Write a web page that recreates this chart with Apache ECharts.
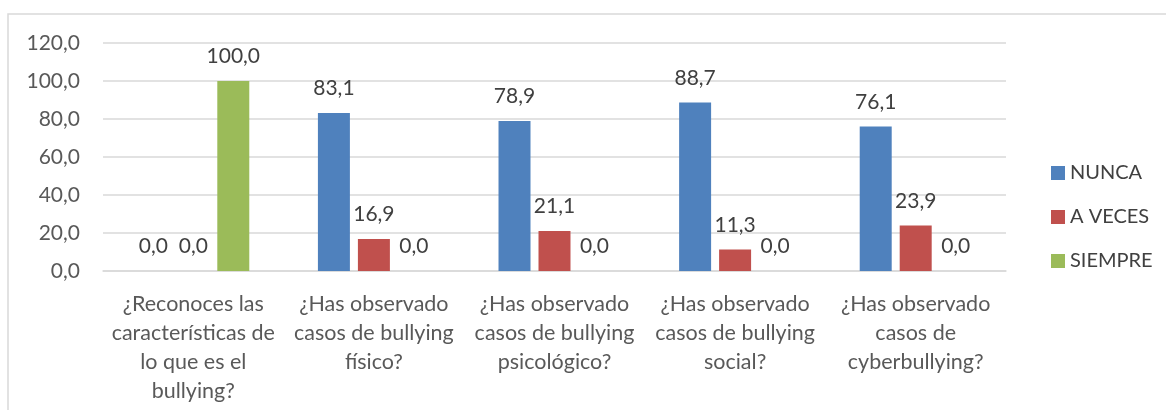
<!DOCTYPE html>
<html>
<head>
<meta charset="utf-8">
<script src="https://cdn.jsdelivr.net/npm/echarts@6/dist/echarts.min.js"></script>
<style>
  html, body { margin: 0; padding: 0; background: #fff; }
  #chart { width: 1166px; height: 410px; }
</style>
</head>
<body>
<div id="chart"></div>
<script>
var categories = [
    '¿Reconoces las\ncaracterísticas de\nlo que es el\nbullying?',
    '¿Has observado\ncasos de bullying\nfísico?',
    '¿Has observado\ncasos de bullying\npsicológico?',
    '¿Has observado\ncasos de bullying\nsocial?',
    '¿Has observado\ncasos de\ncyberbullying?'
];
var nunca = [0.0, 83.1, 78.9, 88.7, 76.1];
var aVeces = [0.0, 16.9, 21.1, 11.3, 23.9];
var siempre = [100.0, 0.0, 0.0, 0.0, 0.0];

var seriesNames = ['NUNCA', 'A VECES', 'SIEMPRE'];
var seriesData = [nunca, aVeces, siempre];
var colors = ['#4f81bd', '#c0504d', '#9bbb59'];

var fontFamily = 'Lato, "Open Sans", sans-serif';

function fmt(v) {
    return Number(v).toFixed(1).replace('.', ',');
}

var series = seriesNames.map(function (name, i) {
    return {
        name: name,
        type: 'bar',
        data: seriesData[i],
        barGap: '25%',
        barCategoryGap: '38%',
        itemStyle: { color: colors[i] },
        label: {
            show: true,
            position: 'top',
            distance: 14,
            color: '#404040',
            fontFamily: fontFamily,
            fontSize: 21,
            formatter: function (p) { return fmt(p.value); }
        }
    };
});

var option = {
    animation: false,
    color: colors,
    graphic: [{
        type: 'rect',
        shape: { x: 8, y: 14, width: 1300, height: 600 },
        style: { fill: 'none', stroke: '#d9d9d9', lineWidth: 1.5 }
    }],
    grid: {
        left: 103,
        right: 160,
        top: 43,
        bottom: 139
    },
    legend: {
        orient: 'vertical',
        left: 1046,
        top: 158,
        itemWidth: 14,
        itemHeight: 14,
        itemGap: 24,
        icon: 'rect',
        textStyle: {
            color: '#404040',
            fontFamily: fontFamily,
            fontSize: 20
        },
        data: seriesNames
    },
    xAxis: {
        type: 'category',
        data: categories,
        axisLine: { lineStyle: { color: '#d9d9d9', width: 1.5 } },
        axisTick: { show: false },
        axisLabel: {
            interval: 0,
            margin: 19,
            color: '#595959',
            fontFamily: fontFamily,
            fontSize: 21.5,
            lineHeight: 29
        }
    },
    yAxis: {
        type: 'value',
        min: 0,
        max: 120,
        interval: 20,
        axisLine: { show: false },
        axisTick: { show: false },
        splitLine: { lineStyle: { color: '#d9d9d9', width: 1.5 } },
        axisLabel: {
            margin: 23,
            color: '#595959',
            fontFamily: fontFamily,
            fontSize: 21,
            formatter: fmt
        }
    },
    series: series
};

var myChart = echarts.init(document.getElementById('chart'));
myChart.setOption(option);
</script>
</body>
</html>
